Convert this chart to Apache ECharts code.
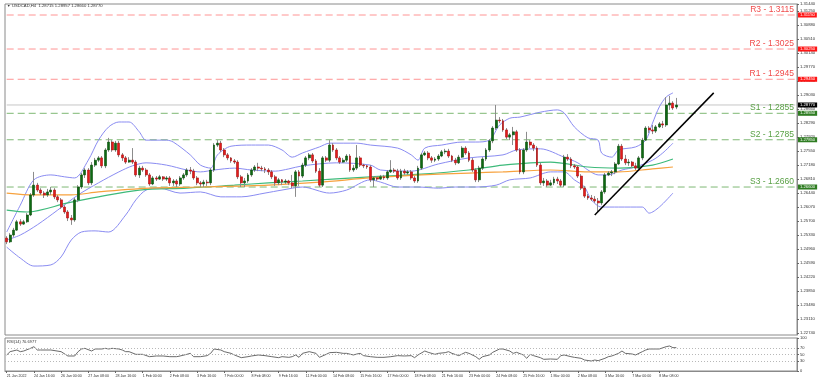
<!DOCTYPE html>
<html><head><meta charset="utf-8">
<script src="https://cdn.jsdelivr.net/npm/echarts@6/dist/echarts.min.js"></script>
<style>html,body{margin:0;padding:0;background:#fff}#c{width:820px;height:386px}</style>
</head><body><div id="c"></div>
<script>
const slotCount = 233;
const tickLabels = ['21 Jan 2022','24 Jan 16:00','26 Jan 00:00','27 Jan 08:00','28 Jan 16:00','1 Feb 00:00','2 Feb 08:00','3 Feb 16:00','7 Feb 00:00','8 Feb 08:00','9 Feb 16:00','11 Feb 00:00','14 Feb 08:00','15 Feb 16:00','17 Feb 00:00','18 Feb 08:00','21 Feb 16:00','23 Feb 00:00','24 Feb 08:00','25 Feb 16:00','1 Mar 00:00','2 Mar 08:00','3 Mar 16:00','7 Mar 00:00','8 Mar 08:00'];
const priceTicks = [1.22740,1.23110,1.23480,1.23850,1.24220,1.24590,1.24960,1.25330,1.25700,1.26070,1.26440,1.26810,1.27180,1.27550,1.27920,1.28290,1.28660,1.29030,1.29400,1.29770,1.30140,1.30510,1.30880,1.31250,1.31440];
const rsiTicks = [0,30,50,70,100];

const open = [1.2525,1.2515,1.2533,1.2546,1.2568,1.2562,1.2568,1.2586,1.2639,1.2665,
1.2652,1.2644,1.2639,1.2647,1.2652,1.2634,1.2626,1.2607,1.2594,1.2578,
1.2573,1.2626,1.2660,1.2692,1.2705,1.2671,1.2718,1.2731,1.2737,1.2716,
1.2758,1.2779,1.2758,1.2776,1.2745,1.2737,1.2726,1.2731,1.2726,1.2692,
1.2710,1.2705,1.2692,1.2668,1.2684,1.2681,1.2687,1.2681,1.2684,1.2671,
1.2676,1.2668,1.2684,1.2692,1.2705,1.2702,1.2684,1.2671,1.2668,1.2673,
1.2671,1.2705,1.2771,1.2776,1.2758,1.2745,1.2737,1.2729,1.2726,1.2687,
1.2671,1.2676,1.2692,1.2705,1.2713,1.2710,1.2708,1.2705,1.2700,1.2687,
1.2671,1.2679,1.2673,1.2676,1.2671,1.2663,1.2700,1.2689,1.2718,1.2737,
1.2745,1.2729,1.2702,1.2665,1.2737,1.2731,1.2771,1.2758,1.2737,1.2726,
1.2731,1.2742,1.2705,1.2710,1.2737,1.2718,1.2716,1.2713,1.2679,1.2684,
1.2681,1.2687,1.2684,1.2700,1.2705,1.2702,1.2684,1.2702,1.2697,1.2700,
1.2684,1.2676,1.2710,1.2745,1.2750,1.2737,1.2731,1.2734,1.2742,1.2753,
1.2755,1.2742,1.2731,1.2724,1.2739,1.2763,1.2750,1.2731,1.2705,1.2679,
1.2710,1.2734,1.2758,1.2782,1.2816,1.2837,1.2835,1.2811,1.2792,1.2798,
1.2806,1.2758,1.2700,1.2758,1.2779,1.2771,1.2763,1.2718,1.2671,1.2676,
1.2665,1.2671,1.2681,1.2676,1.2665,1.2739,1.2734,1.2716,1.2713,1.2689,
1.2657,1.2636,1.2631,1.2628,1.2623,1.2618,1.2647,1.2692,1.2697,1.2700,
1.2721,1.2768,1.2734,1.2724,1.2726,1.2716,1.2710,1.2737,1.2784,1.2816,
1.2811,1.2808,1.2819,1.2827,1.2824,1.2877,1.2882,1.28715];
const close = [1.2515,1.2533,1.2546,1.2568,1.2562,1.2568,1.2586,1.2639,1.2665,1.2652,
1.2644,1.2639,1.2647,1.2652,1.2634,1.2626,1.2607,1.2594,1.2578,1.2573,
1.2626,1.2660,1.2692,1.2705,1.2671,1.2718,1.2731,1.2737,1.2716,1.2758,
1.2779,1.2758,1.2776,1.2745,1.2737,1.2726,1.2731,1.2726,1.2692,1.2710,
1.2705,1.2692,1.2668,1.2684,1.2681,1.2687,1.2681,1.2684,1.2671,1.2676,
1.2668,1.2684,1.2692,1.2705,1.2702,1.2684,1.2671,1.2668,1.2673,1.2671,
1.2705,1.2771,1.2776,1.2758,1.2745,1.2737,1.2729,1.2726,1.2687,1.2671,
1.2676,1.2692,1.2705,1.2713,1.2710,1.2708,1.2705,1.2700,1.2687,1.2671,
1.2679,1.2673,1.2676,1.2671,1.2663,1.2700,1.2689,1.2718,1.2737,1.2745,
1.2729,1.2702,1.2665,1.2737,1.2731,1.2771,1.2758,1.2737,1.2726,1.2731,
1.2742,1.2705,1.2710,1.2737,1.2718,1.2716,1.2713,1.2679,1.2684,1.2681,
1.2687,1.2684,1.2700,1.2705,1.2702,1.2684,1.2702,1.2697,1.2700,1.2684,
1.2676,1.2710,1.2745,1.2750,1.2737,1.2731,1.2734,1.2742,1.2753,1.2755,
1.2742,1.2731,1.2724,1.2739,1.2763,1.2750,1.2731,1.2705,1.2679,1.2710,
1.2734,1.2758,1.2782,1.2816,1.2837,1.2835,1.2811,1.2792,1.2798,1.2806,
1.2758,1.2700,1.2758,1.2779,1.2771,1.2763,1.2718,1.2671,1.2676,1.2665,
1.2671,1.2681,1.2676,1.2665,1.2739,1.2734,1.2716,1.2713,1.2689,1.2657,
1.2636,1.2631,1.2628,1.2623,1.2618,1.2647,1.2692,1.2697,1.2700,1.2721,
1.2768,1.2734,1.2724,1.2726,1.2716,1.2710,1.2737,1.2784,1.2816,1.2811,
1.2808,1.2819,1.2827,1.2824,1.2877,1.2882,1.2869,1.28770];
const low = [1.2509,1.2512,1.2528,1.2544,1.2557,1.2560,1.2565,1.2583,1.2634,1.2647,
1.2639,1.2631,1.2634,1.2639,1.2628,1.2620,1.2602,1.2589,1.2570,1.2560,
1.2568,1.2620,1.2655,1.2684,1.2665,1.2665,1.2713,1.2726,1.2710,1.2710,
1.2753,1.2753,1.2753,1.2739,1.2729,1.2721,1.2724,1.2721,1.2687,1.2684,
1.2700,1.2687,1.2663,1.2665,1.2676,1.2679,1.2676,1.2676,1.2663,1.2663,
1.2660,1.2663,1.2679,1.2687,1.2694,1.2679,1.2665,1.2660,1.2660,1.2663,
1.2665,1.2700,1.2766,1.2753,1.2739,1.2731,1.2724,1.2721,1.2681,1.2660,
1.2660,1.2671,1.2687,1.2700,1.2702,1.2702,1.2697,1.2692,1.2681,1.2663,
1.2665,1.2665,1.2668,1.2665,1.2657,1.2634,1.2663,1.2684,1.2713,1.2731,
1.2724,1.2697,1.2660,1.2660,1.2726,1.2726,1.2753,1.2731,1.2721,1.2724,
1.2726,1.2700,1.2700,1.2705,1.2713,1.2710,1.2708,1.2673,1.2660,1.2676,
1.2679,1.2679,1.2679,1.2697,1.2697,1.2679,1.2679,1.2692,1.2692,1.2679,
1.2671,1.2671,1.2705,1.2742,1.2731,1.2724,1.2726,1.2729,1.2739,1.2747,
1.2737,1.2726,1.2718,1.2721,1.2737,1.2745,1.2726,1.2700,1.2673,1.2673,
1.2705,1.2729,1.2753,1.2776,1.2811,1.2829,1.2806,1.2787,1.2784,1.2771,
1.2753,1.2694,1.2694,1.2753,1.2763,1.2755,1.2713,1.2665,1.2663,1.2660,
1.2663,1.2665,1.2668,1.2660,1.2660,1.2729,1.2710,1.2708,1.2684,1.2652,
1.2631,1.2626,1.2623,1.2618,1.2594,1.2612,1.2642,1.2689,1.2689,1.2694,
1.2718,1.2729,1.2718,1.2716,1.2710,1.2705,1.2708,1.2731,1.2782,1.2803,
1.2800,1.2803,1.2816,1.2816,1.2819,1.2864,1.2864,1.28660];
const high = [1.2530,1.2538,1.2552,1.2573,1.2575,1.2573,1.2591,1.2644,1.2700,1.2671,
1.2657,1.2649,1.2655,1.2660,1.2657,1.2639,1.2631,1.2612,1.2599,1.2586,
1.2631,1.2665,1.2697,1.2710,1.2710,1.2726,1.2737,1.2742,1.2742,1.2763,
1.2790,1.2784,1.2782,1.2782,1.2750,1.2742,1.2739,1.2763,1.2731,1.2716,
1.2716,1.2710,1.2697,1.2689,1.2689,1.2692,1.2689,1.2689,1.2689,1.2681,
1.2681,1.2689,1.2697,1.2710,1.2713,1.2708,1.2689,1.2676,1.2679,1.2679,
1.2710,1.2776,1.2784,1.2782,1.2763,1.2750,1.2739,1.2734,1.2731,1.2692,
1.2684,1.2697,1.2710,1.2718,1.2724,1.2716,1.2713,1.2710,1.2705,1.2692,
1.2684,1.2681,1.2681,1.2679,1.2692,1.2705,1.2705,1.2724,1.2742,1.2750,
1.2750,1.2734,1.2710,1.2742,1.2742,1.2784,1.2776,1.2763,1.2742,1.2737,
1.2747,1.2747,1.2718,1.2771,1.2742,1.2721,1.2718,1.2718,1.2689,1.2689,
1.2692,1.2692,1.2705,1.2731,1.2710,1.2708,1.2708,1.2708,1.2705,1.2705,
1.2689,1.2716,1.2750,1.2755,1.2755,1.2742,1.2739,1.2747,1.2758,1.2761,
1.2761,1.2745,1.2737,1.2745,1.2768,1.2768,1.2755,1.2737,1.2710,1.2716,
1.2739,1.2763,1.2787,1.2821,1.2877,1.2845,1.2840,1.2816,1.2803,1.2819,
1.2811,1.2763,1.2763,1.2806,1.2784,1.2776,1.2768,1.2724,1.2684,1.2681,
1.2679,1.2687,1.2687,1.2681,1.2745,1.2747,1.2739,1.2721,1.2718,1.2694,
1.2663,1.2642,1.2639,1.2636,1.2631,1.2652,1.2697,1.2702,1.2705,1.2726,
1.2774,1.2774,1.2745,1.2734,1.2729,1.2724,1.2742,1.2790,1.2821,1.2821,
1.2824,1.2824,1.2832,1.2835,1.2898,1.2901,1.2887,1.28957];

const bbUpper = [[0,1.2541],[4,1.2612],[8,1.2679],[13,1.2692],[17,1.2687],[20,1.2684],[24,1.2731],[27,1.2784],[30,1.2819],[33,1.2832],[36,1.2832],[39,1.2806],[41,1.2784],[47,1.2784],[49,1.2779],[54,1.2745],[57,1.2718],[60,1.2710],[62,1.2745],[66,1.2768],[72,1.2771],[77,1.2771],[81,1.2758],[84,1.2739],[87,1.2750],[92,1.2766],[95,1.2776],[103,1.2776],[107,1.2771],[115,1.2763],[119,1.2745],[121,1.2731],[123,1.2763],[128,1.2771],[134,1.2779],[138,1.2779],[142,1.2784],[145,1.2824],[148,1.2842],[151,1.2845],[157,1.2858],[162,1.2864],[164,1.2856],[167,1.2819],[171,1.2790],[174,1.2784],[175,1.2750],[178,1.2739],[180,1.2758],[185,1.2766],[188,1.2784],[190,1.2829],[192,1.2872],[194,1.2898],[196,1.2909]];
const bbMiddle = [[0,1.2520],[4,1.2533],[9,1.2560],[15,1.2599],[21,1.2639],[27,1.2671],[33,1.2700],[37,1.2716],[41,1.2724],[47,1.2718],[53,1.2705],[57,1.2700],[61,1.2705],[67,1.2710],[72,1.2705],[79,1.2702],[83,1.2708],[87,1.2716],[97,1.2724],[107,1.2718],[110,1.2705],[119,1.2702],[127,1.2721],[136,1.2737],[146,1.2745],[150,1.2758],[157,1.2761],[164,1.2739],[168,1.2724],[171,1.2705],[174,1.2692],[177,1.2692],[181,1.2705],[185,1.2713],[190,1.2731],[193,1.2750],[196,1.2776]];
const bbLower = [[0,1.2501],[4,1.2472],[8,1.2451],[13,1.2454],[16,1.2475],[19,1.2520],[22,1.2541],[26,1.2544],[30,1.2541],[35,1.2586],[38,1.2626],[41,1.2652],[45,1.2657],[51,1.2644],[57,1.2647],[63,1.2634],[69,1.2634],[76,1.2644],[81,1.2652],[87,1.2660],[95,1.2644],[100,1.2652],[107,1.2679],[110,1.2673],[115,1.2660],[121,1.2660],[127,1.2657],[132,1.2660],[138,1.2660],[144,1.2665],[148,1.2679],[154,1.2684],[160,1.2700],[164,1.2700],[167,1.2679],[170,1.2660],[172,1.2626],[175,1.2607],[180,1.2607],[187,1.2607],[189,1.2591],[192,1.2607],[196,1.2644]];
const maGreen = [[0,1.2599],[6,1.2594],[18,1.2618],[27,1.2634],[39,1.2652],[53,1.2657],[67,1.2665],[77,1.2671],[87,1.2676],[107,1.2687],[122,1.2694],[136,1.2705],[146,1.2718],[160,1.2726],[171,1.2713],[180,1.2710],[190,1.2718],[196,1.2734]];
const maOrange = [[0,1.2644],[8,1.2639],[19,1.2639],[27,1.2647],[42,1.2657],[57,1.2660],[77,1.2665],[92,1.2673],[107,1.2684],[122,1.2692],[136,1.2697],[146,1.2700],[160,1.2705],[171,1.2700],[180,1.2700],[190,1.2708],[196,1.2713]];
const trendLine = [[173,1.2586],[208,1.2909]];
const rsiPoints = [[0,48.5],[1,58.6],[3,63.6],[4,58.6],[5,60.6],[7,68.7],[8,73.7],[9,63.6],[10,63.6],[13,63.6],[16,58.6],[18,45.5],[20,45.5],[21,58.6],[22,66.7],[23,68.7],[25,60.6],[26,66.7],[28,66.7],[29,68.7],[30,66.7],[31,68.7],[33,66.7],[34,63.6],[35,58.6],[36,58.6],[38,50.5],[40,50.5],[42,43.4],[44,45.5],[46,45.5],[48,43.4],[50,43.4],[51,45.5],[53,50.5],[54,53.5],[55,43.4],[57,43.4],[59,46.5],[60,53.5],[61,66.7],[63,63.6],[64,58.6],[66,53.5],[67,48.5],[69,40.4],[71,43.4],[72,45.5],[74,48.5],[76,46.5],[78,43.4],[80,40.4],[81,43.4],[83,41.4],[84,43.4],[85,48.5],[86,41.4],[87,53.5],[89,58.6],[91,53.5],[92,41.4],[94,50.5],[95,55.6],[97,56.6],[99,53.5],[100,53.5],[102,48.5],[103,51.5],[104,53.5],[105,46.5],[107,43.4],[109,41.4],[111,41.4],[113,43.4],[115,46.5],[117,45.5],[119,46.5],[120,40.4],[121,48.5],[123,60.6],[124,56.6],[126,50.5],[127,53.5],[129,55.6],[130,58.6],[131,53.5],[133,46.5],[135,56.6],[136,53.5],[138,43.4],[139,35.4],[140,43.4],[142,48.5],[143,56.6],[145,66.7],[146,66.7],[148,60.6],[149,53.5],[150,56.6],[152,48.5],[153,38.4],[154,50.5],[155,46.5],[157,40.4],[158,35.4],[160,36.4],[162,35.4],[163,46.5],[164,48.5],[166,43.4],[167,41.4],[169,38.4],[170,33.3],[172,30.3],[173,33.3],[174,31.3],[176,38.4],[177,43.4],[178,45.5],[180,53.5],[181,60.6],[182,53.5],[184,51.5],[185,48.5],[187,58.6],[188,63.6],[189,66.7],[191,66.7],[192,66.7],[194,73.7],[195,75.8],[196,70.7],[197,70.7]];
const resistanceNames = ['R3','R2','R1'];
const resistanceValues = [1.3115,1.3025,1.2945];
const supportNames = ['S1','S2','S3'];
const supportValues = [1.2855,1.2785,1.2660];
const lastPrice = 1.2877;
const titleText = 'USDCAD,H4  1.28715 1.28957 1.28660 1.28770';
const rsiText = 'RSI(14) 70.6977';

const cats = Array.from({length: slotCount}, (_, i) => String(i));
const wickData = open.map((o, i) => [o, close[i], low[i], high[i]]);
const bodyData = open.map((o, i) => [o, close[i], Math.min(o, close[i]), Math.max(o, close[i])]);

function hLine(v, color, type) {
  return {type: 'line', xAxisIndex: 0, yAxisIndex: 0, data: [[0, v], [slotCount - 1, v]],
    showSymbol: false, silent: true, z: 1,
    lineStyle: {color: color, type: type, width: 1}};
}
function levelLabels(names, values, textColor, boxColor) {
  const out = [];
  names.forEach((n, i) => {
    const v = values[i];
    out.push({yAxis: v,
      label: {show: true, position: 'insideEndTop', formatter: n + ' - ' + v.toFixed(4),
        color: textColor, fontSize: 8.5, distance: [3, 1]}});
    out.push({yAxis: v,
      label: {show: true, position: 'end', formatter: v.toFixed(5), color: '#fff',
        backgroundColor: boxColor, fontSize: 4.2, padding: [1, 2, 0, 2], distance: 1}});
  });
  return out;
}
const labelMarks = levelLabels(resistanceNames, resistanceValues, '#f04a4a', '#ff1414')
  .concat(levelLabels(supportNames, supportValues, '#58a044', '#2f7d22'))
  .concat([{yAxis: lastPrice, label: {show: true, position: 'end', formatter: lastPrice.toFixed(5),
    color: '#fff', backgroundColor: '#000', fontSize: 4.2, padding: [1, 2, 0, 2], distance: 1}}]);

const levelLineSeries = []
  .concat(resistanceValues.map(v => hLine(v, '#ff9494', [7, 4])))
  .concat(supportValues.map(v => hLine(v, '#7fb874', [7, 4])))
  .concat([hLine(lastPrice, '#c6c6c6', 'solid')]);

const chart = echarts.init(document.getElementById('c'), null, {renderer: 'canvas'});
const ff = '"Liberation Sans", Arial, sans-serif';
chart.setOption({
  animation: false,
  backgroundColor: '#fff',
  textStyle: {fontFamily: ff},
  grid: [
    {left: 5, right: 23, top: 4, height: 331, show: true, borderColor: '#8a8a8a', borderWidth: 1},
    {left: 5, right: 23, top: 338, height: 33, show: true, borderColor: '#8a8a8a', borderWidth: 1}
  ],
  xAxis: [
    {type: 'category', gridIndex: 0, data: cats, boundaryGap: true,
      axisLine: {show: false}, axisTick: {show: false}, axisLabel: {show: false}, splitLine: {show: false}},
    {type: 'category', gridIndex: 1, data: cats, boundaryGap: true,
      axisLine: {show: true, lineStyle: {color: '#8a8a8a'}},
      axisTick: {show: true, alignWithLabel: true, length: 2, lineStyle: {color: '#666'},
        interval: (i) => i % 8 === 0 && i / 8 < tickLabels.length},
      axisLabel: {show: true, interval: 0, align: 'left', margin: 3, fontSize: 3.6, color: '#333',
        formatter: (v, i) => (i % 8 === 0 && tickLabels[i / 8]) ? tickLabels[i / 8] : ''},
      splitLine: {show: false}}
  ],
  yAxis: [
    {type: 'value', gridIndex: 0, position: 'right', min: 1.22686, max: 1.31441,
      splitLine: {show: false},
      axisLine: {show: true, lineStyle: {color: '#8a8a8a'}},
      axisTick: {show: true, length: 2, customValues: priceTicks, lineStyle: {color: '#666'}},
      axisLabel: {show: true, fontSize: 4.2, color: '#333', margin: 3, customValues: priceTicks,
        formatter: (v) => v.toFixed(5)}},
    {type: 'value', gridIndex: 1, position: 'right', min: 0, max: 100,
      splitLine: {show: false},
      axisLine: {show: true, lineStyle: {color: '#8a8a8a'}},
      axisTick: {show: true, length: 2, customValues: rsiTicks, lineStyle: {color: '#666'}},
      axisLabel: {show: true, fontSize: 4, color: '#333', margin: 3, customValues: rsiTicks,
        formatter: (v) => String(v)}}
  ],
  graphic: [
    {type: 'text', left: 7, top: 4, style: {text: '▼', fontSize: 3.5, fill: '#333'}},
    {type: 'text', left: 12, top: 3.5, style: {text: titleText, fontSize: 4.2, fill: '#333', fontFamily: ff}},
    {type: 'text', left: 7, top: 339.5, style: {text: rsiText, fontSize: 4, fill: '#333', fontFamily: ff}}
  ],
  series: levelLineSeries.concat([
    {type: 'line', xAxisIndex: 0, yAxisIndex: 0, data: bbUpper, showSymbol: false, smooth: 0.3,
      lineStyle: {color: '#8a8cf2', width: 1}, z: 2},
    {type: 'line', xAxisIndex: 0, yAxisIndex: 0, data: bbMiddle, showSymbol: false, smooth: 0.3,
      lineStyle: {color: '#8a8cf2', width: 1}, z: 2},
    {type: 'line', xAxisIndex: 0, yAxisIndex: 0, data: bbLower, showSymbol: false, smooth: 0.3,
      lineStyle: {color: '#8a8cf2', width: 1}, z: 2},
    {type: 'line', xAxisIndex: 0, yAxisIndex: 0, data: maGreen, showSymbol: false, smooth: 0.3,
      lineStyle: {color: '#3dba7a', width: 1.2}, z: 2},
    {type: 'line', xAxisIndex: 0, yAxisIndex: 0, data: maOrange, showSymbol: false, smooth: 0.3,
      lineStyle: {color: '#f7a23e', width: 1.2}, z: 2},
    {type: 'candlestick', xAxisIndex: 0, yAxisIndex: 0, data: wickData, barWidth: 1,
      itemStyle: {color: '#8c8c8c', color0: '#8c8c8c', borderColor: '#8c8c8c', borderColor0: '#8c8c8c', borderWidth: 1},
      markLine: {silent: true, precision: 6, symbol: ['none', 'none'], animation: false,
        lineStyle: {width: 0}, data: labelMarks}, z: 3},
    {type: 'candlestick', xAxisIndex: 0, yAxisIndex: 0, data: bodyData, barWidth: 2.4,
      itemStyle: {color: '#0e6a12', color0: '#e41c1c', borderColor: '#0a4d0c', borderColor0: '#a80f0f', borderWidth: 0.6}, z: 4},
    {type: 'line', xAxisIndex: 0, yAxisIndex: 0, data: trendLine, showSymbol: false,
      lineStyle: {color: '#000', width: 1.5}, z: 5},
    {type: 'line', xAxisIndex: 1, yAxisIndex: 1, data: rsiPoints, showSymbol: false,
      lineStyle: {color: '#6a6a6a', width: 1},
      markLine: {silent: true, precision: 4, symbol: ['none', 'none'], label: {show: false},
        lineStyle: {type: [1, 2], color: '#b8b8b8', width: 1},
        data: [{yAxis: 70}, {yAxis: 50}, {yAxis: 30}]}}
  ])
});
</script></body></html>
